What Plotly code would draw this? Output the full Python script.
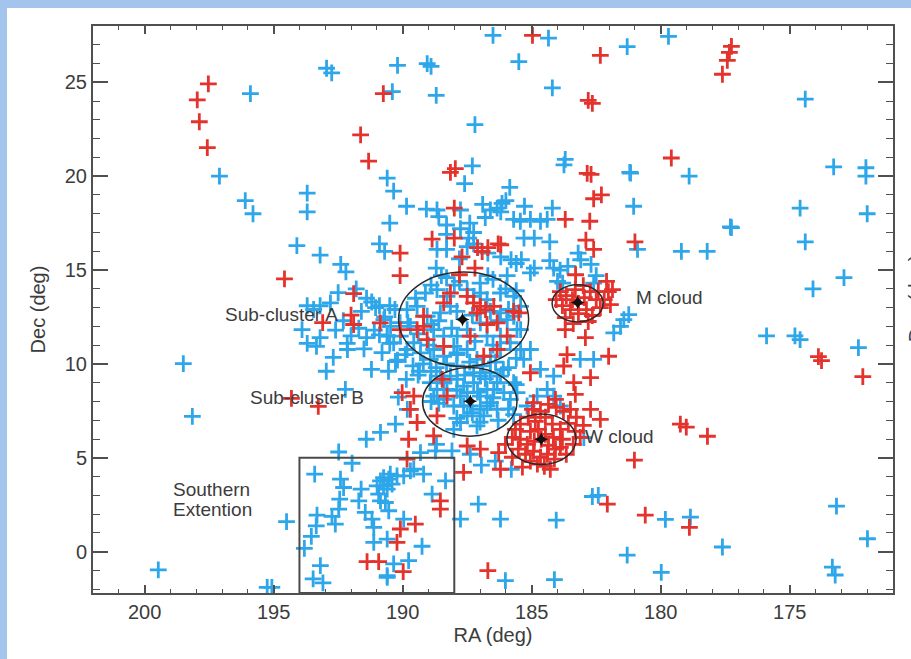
import plotly.graph_objects as go

# ---- galaxy positions (RA, Dec in degrees) ----
blue_north = [
    (186.5, 27.5), (184.35, 27.35), (185.5, 26.1), (184.2, 24.7), (181.3, 26.9), (179.7, 27.45),
    (174.4, 24.1), (195.9, 24.4), (192.95, 25.75), (192.75, 25.5), (190.2, 25.9), (189.05, 26.0),
    (188.9, 25.85), (188.7, 24.3), (190.4, 24.5), (187.2, 22.75), (197.1, 20.0), (187.3, 20.55),
    (190.6, 19.9), (187.6, 19.6), (193.7, 19.1), (190.35, 19.2), (185.85, 19.4), (183.7, 20.9),
    (183.75, 20.6), (181.2, 20.2), (178.9, 20.0), (173.3, 20.5), (172.05, 20.45), (172.05, 20.0),
]
blue_mid = [
    (196.1, 18.7), (195.8, 18.0), (193.7, 18.1), (189.85, 18.4), (189.08, 18.25), (188.67, 18.2),
    (188.6, 17.85), (188.3, 17.4), (187.76, 18.2), (186.9, 18.5), (186.6, 18.2), (186.34, 18.3),
    (186.15, 18.55), (186.0, 18.7), (186.2, 18.1), (186.8, 17.8), (185.28, 18.4), (185.7, 17.7),
    (185.44, 17.6), (185.05, 17.7), (184.66, 17.6), (184.4, 17.7), (184.2, 18.3), (190.5, 17.5),
    (187.4, 17.5), (187.25, 17.0), (187.76, 17.2), (188.3, 16.9), (187.44, 16.7), (187.25, 16.4),
    (187.5, 16.25), (190.9, 16.4), (190.7, 16.0), (193.2, 15.8), (188.67, 16.1), (188.3, 16.1),
    (185.3, 16.7), (184.9, 16.7), (184.3, 16.5), (180.9, 16.1), (186.7, 15.9), (186.2, 15.7),
    (185.8, 15.55), (187.8, 15.6), (185.4, 15.55), (185.6, 15.35), (184.9, 15.1), (185.05, 14.85),
    (183.2, 15.9), (183.1, 15.55), (182.7, 15.3), (192.4, 15.3), (192.2, 14.9), (188.7, 15.1),
    (188.0, 14.2), (188.5, 14.7), (186.7, 14.7), (185.95, 14.7), (184.3, 15.5), (184.15, 15.1),
    (183.9, 15.0), (183.6, 15.2), (184.0, 14.4), (183.8, 14.3), (182.5, 14.7), (182.6, 14.3),
    (181.05, 18.4), (194.1, 16.3), (178.2, 16.0), (177.3, 17.3), (179.2, 16.0), (174.6, 18.3),
    (174.4, 16.5), (172.0, 18.0), (172.9, 14.6), (174.1, 14.0),
]
blue_sub_a = [
    (189.12, 13.78), (188.67, 13.96), (188.28, 13.6), (188.15, 13.07), (187.5, 13.96), (187.25, 13.6),
    (186.99, 13.78), (186.73, 13.43), (186.21, 13.78), (185.7, 13.6), (185.43, 13.07), (189.83, 12.89),
    (189.44, 13.07), (189.05, 12.54), (188.54, 12.72), (186.21, 12.72), (185.95, 12.36), (185.7, 12.54),
    (185.43, 11.83), (188.8, 11.83), (188.41, 11.48), (187.89, 11.48), (187.5, 11.83), (186.99, 12.19),
    (186.73, 11.48), (186.21, 11.48), (188.02, 10.94), (190.73, 12.36), (190.47, 12.0), (190.6, 11.48),
    (190.35, 11.13), (190.09, 11.48), (189.7, 12.0), (189.57, 11.13), (189.83, 10.77), (189.31, 10.59),
    (188.8, 10.77), (188.93, 10.24), (188.41, 10.41), (187.89, 10.59), (187.5, 10.77), (187.12, 10.24),
    (186.6, 10.41), (186.21, 10.77), (185.83, 11.13), (185.43, 10.77), (185.57, 11.83), (188.9, 14.2),
    (188.3, 14.6), (187.8, 14.4), (187.0, 14.3), (186.5, 14.5), (186.0, 14.0), (185.6, 13.9),
    (189.5, 13.5), (189.8, 12.2), (189.4, 11.6), (188.9, 12.1), (188.6, 12.3), (187.9, 12.8),
    (187.3, 12.6), (186.6, 12.8), (186.3, 12.3), (185.9, 12.9), (188.1, 11.9), (187.2, 11.2),
    (186.5, 11.0), (187.9, 10.5), (189.0, 11.0), (190.2, 10.2), (189.9, 10.5), (189.6, 9.9),
    (189.2, 10.0), (188.7, 9.8), (188.3, 10.0), (187.9, 9.9), (187.4, 10.1), (186.9, 9.9),
    (186.4, 10.1), (185.9, 9.8), (185.6, 10.3), (189.4, 9.4), (188.9, 9.6),
]
blue_west = [
    (193.7, 13.1), (193.45, 12.9), (193.2, 13.1), (192.8, 13.25), (191.4, 13.5), (191.2, 13.3),
    (191.05, 13.0), (190.9, 13.1), (190.5, 13.1), (190.7, 12.5), (191.1, 11.8), (190.9, 11.55),
    (190.6, 11.5), (191.4, 11.4), (190.5, 11.1), (193.2, 11.4), (193.7, 11.1), (192.15, 11.1),
    (192.0, 11.5), (191.8, 14.0), (192.5, 13.8), (191.6, 12.8), (192.3, 12.3), (190.3, 12.9),
    (190.1, 12.2), (191.7, 11.9), (190.8, 10.6), (191.5, 10.8), (192.6, 11.8), (193.9, 11.83),
    (193.34, 10.94), (192.69, 10.35), (192.14, 10.77), (191.21, 9.71), (190.55, 9.61), (190.28, 10.13),
    (189.86, 9.18), (189.35, 9.61), (190.17, 8.23), (189.82, 7.58), (190.28, 6.79), (190.86, 6.36),
    (191.41, 5.99), (192.96, 9.61), (192.22, 8.65), (198.5, 10.02), (198.15, 7.21),
]
blue_sub_b = [
    (188.93, 9.0), (188.54, 9.35), (188.28, 8.64), (187.89, 9.18), (187.64, 8.82), (187.76, 8.29),
    (187.25, 9.0), (186.99, 9.35), (186.73, 8.64), (186.34, 9.0), (186.08, 8.47), (186.6, 7.94),
    (186.99, 7.58), (187.38, 7.76), (188.02, 7.76), (188.41, 8.11), (188.8, 8.29), (187.5, 7.23),
    (186.86, 7.23), (186.34, 7.58), (185.83, 8.11), (186.21, 9.35), (186.6, 9.53), (187.25, 9.53),
    (188.15, 9.35), (188.67, 8.64), (187.76, 6.88), (187.12, 6.7), (188.02, 6.52), (185.7, 9.0),
    (185.57, 8.47), (186.47, 8.64), (187.5, 8.47), (186.99, 8.29), (186.73, 7.76), (187.64, 7.76),
    (187.9, 8.6), (187.1, 8.5), (186.8, 9.2), (187.6, 9.4), (188.4, 9.0), (187.3, 7.4),
    (186.5, 8.2), (188.6, 7.9), (187.0, 6.9), (186.3, 7.0), (185.9, 7.6), (185.6, 8.9),
    (188.9, 8.0), (187.9, 7.1), (186.1, 9.7), (185.7, 7.3),
]
blue_east = [
    (183.12, 10.24), (182.6, 10.24), (181.82, 11.66), (181.43, 12.36), (181.24, 12.63), (181.56, 12.0),
    (185.31, 10.24), (185.05, 10.77), (184.66, 9.71), (184.4, 8.64), (184.15, 9.35), (184.79, 8.29),
    (185.18, 7.76), (184.15, 8.29), (183.89, 7.76), (182.98, 6.08), (177.26, 17.26), (181.17, 20.17),
    (175.9, 11.5), (174.8, 11.5), (174.6, 11.3), (172.34, 10.87), (173.19, 2.43), (171.99, 0.69),
    (173.35, -0.82), (173.24, -1.24), (179.98, -1.1), (181.3, -0.18), (178.85, 1.84), (177.61, 0.25),
    (179.82, 1.72), (182.65, 2.94), (182.42, 3.0), (184.05, 1.68),
]
blue_south = [
    (192.48, 5.31), (191.96, 4.71), (193.41, 4.13), (192.41, 3.86), (192.29, 3.42), (192.44, 2.8),
    (192.48, 2.27), (193.32, 1.95), (192.74, 1.88), (192.61, 1.47), (193.35, 1.38), (193.54, 0.82),
    (193.81, 0.18), (193.19, -0.74), (193.47, -1.45), (193.09, -1.66), (191.61, 3.33), (191.7, 2.71),
    (191.45, 2.09), (191.19, 1.74), (191.12, 1.3), (190.99, 3.51), (190.86, 3.77), (190.74, 3.95),
    (190.54, 3.86), (190.48, 4.13), (190.22, 4.04), (189.96, 4.04), (189.7, 4.3), (189.19, 4.13),
    (189.57, 4.4), (190.74, 3.51), (190.6, 3.33), (190.41, 3.6), (190.93, 3.07), (190.86, 2.71),
    (190.67, 2.62), (190.54, 2.18), (189.96, 1.74), (191.12, 0.5), (190.6, 0.67), (190.35, -0.65),
    (189.77, -0.48), (190.6, -1.28), (189.25, 0.29), (188.86, 3.07), (188.34, 3.77), (187.76, 1.74),
    (189.31, 5.28), (188.73, 5.37), (188.09, 5.37), (194.5, 1.6), (199.47, -0.97), (195.25, -1.9),
    (195.07, -1.9), (190.6, -1.36), (186.02, -1.54), (184.12, -1.49), (187.38, 5.19), (186.95, 4.61),
    (186.41, 4.82), (185.79, 4.39), (187.07, 2.53), (186.21, 1.74), (188.69, 5.72),
]

red_field = [
    (197.96, 24.07), (197.53, 24.92), (197.88, 22.9), (197.57, 21.52), (191.63, 22.2), (191.32, 20.8),
    (190.75, 24.4), (184.97, 27.5), (182.34, 26.44), (182.81, 24.04), (182.65, 23.88), (177.26, 26.91),
    (177.34, 26.6), (177.42, 26.17), (177.61, 25.43), (179.59, 20.97), (172.17, 9.33), (173.89, 10.39),
    (173.77, 10.18), (181.02, 4.88), (180.6, 1.95), (179.24, 6.79), (179.01, 6.63), (178.19, 6.15),
    (178.89, 1.3), (182.07, 2.53), (186.7, -1.01), (189.98, -1.06), (194.58, 14.53), (194.31, 8.17),
    (193.27, 7.74), (187.64, 4.22), (188.54, 2.71), (188.54, 2.27), (189.51, 1.47), (190.09, 1.21),
    (190.22, 0.5), (191.38, -0.53), (190.93, -0.53), (189.83, 4.93),
]
red_north = [
    (182.85, 20.15), (182.7, 20.1), (182.6, 18.8), (182.3, 19.0), (183.7, 17.7), (182.75, 17.6),
    (182.9, 16.6), (182.6, 16.1), (181.0, 16.5), (183.3, 14.75), (188.0, 18.3), (187.96, 20.4),
    (188.15, 20.2), (188.86, 16.65), (188.0, 16.7), (187.1, 16.2), (186.7, 16.2), (186.3, 16.4),
    (186.2, 16.35), (190.1, 15.9), (187.7, 15.7), (190.1, 14.7), (187.8, 14.75), (187.2, 15.1),
    (191.9, 13.75), (192.0, 12.6), (191.9, 12.1), (193.1, 12.2), (186.92, 15.99),
]
red_sub_a = [
    (188.41, 13.25), (187.25, 13.25), (186.99, 13.07), (186.79, 12.89), (187.12, 12.72), (186.47, 13.07),
    (189.19, 12.54), (189.44, 11.83), (186.73, 12.1), (186.34, 12.19), (185.95, 11.48), (189.05, 11.3),
    (185.5, 12.72), (187.5, 13.6), (188.15, 13.78), (190.09, 11.83), (190.87, 12.19), (189.19, 12.0),
    (186.86, 10.41), (185.7, 12.8), (187.38, 11.48), (186.34, 10.77), (188.41, 10.94),
]
red_sub_b = [
    (188.47, 9.18), (188.28, 8.29), (189.57, 8.29), (190.02, 8.47), (189.7, 7.58), (189.44, 6.88),
    (188.8, 6.17), (189.77, 5.99), (187.5, 5.63), (186.99, 5.46), (186.28, 5.28), (186.21, 4.39),
    (188.67, 7.23), (185.05, 9.53), (184.93, 7.94),
]
red_east = [
    (183.63, 10.5), (183.76, 9.89), (183.37, 9.0), (182.72, 9.27), (182.02, 10.41), (183.7, 11.83),
    (182.92, 11.4), (182.1, 14.4), (181.87, 13.96), (184.08, 8.11), (183.31, 8.38), (182.72, 7.58),
    (182.34, 7.05),
]
red_w_cloud = [
    (185.44, 6.79), (185.13, 7.16), (184.86, 6.94), (184.47, 7.16), (184.2, 6.79), (183.89, 6.52),
    (183.58, 6.83), (183.31, 6.41), (185.05, 6.41), (184.74, 6.52), (184.47, 6.25), (184.16, 6.09),
    (183.81, 5.99), (185.44, 5.99), (185.17, 5.72), (184.9, 5.88), (184.63, 5.99), (184.35, 5.67),
    (184.08, 5.46), (185.24, 5.19), (184.93, 5.35), (184.66, 5.03), (184.39, 5.19), (184.12, 4.93),
    (185.52, 5.46), (185.75, 6.09), (185.05, 4.82), (184.78, 4.66), (184.51, 4.55), (185.36, 4.5),
    (183.89, 5.56), (183.66, 5.19), (183.39, 5.72), (183.12, 6.09), (183.0, 6.73), (183.27, 7.16),
    (183.5, 7.58), (183.77, 7.48), (184.05, 7.69), (184.35, 7.85), (184.66, 7.48), (184.97, 7.58),
    (185.75, 5.03), (184.28, 4.39), (186.02, 5.72), (185.63, 6.52),
]
red_m_cloud = [
    (183.89, 13.85), (183.66, 13.64), (183.42, 13.43), (183.19, 13.22), (182.96, 13.53), (182.73, 13.85),
    (182.5, 13.43), (182.34, 13.0), (182.88, 12.89), (183.19, 12.68), (183.5, 12.89), (183.81, 13.11),
    (184.05, 13.43), (183.31, 13.96), (183.0, 14.17), (182.65, 12.58), (183.7, 12.47), (182.42, 13.85),
    (182.19, 13.43), (181.95, 13.16), (182.03, 13.85), (182.81, 12.26), (183.39, 12.15),
]

# structure centres and circle radii (deg)
centre_names = ["Sub-cluster A", "Sub-cluster B", "W cloud", "M cloud"]
centre_ra = [187.68, 187.38, 184.63, 183.22]
centre_dec = [12.37, 8.01, 5.99, 13.27]
circle_ra = [187.64, 187.40, 184.62, 183.22]
circle_dec = [12.38, 7.98, 5.99, 13.23]
circle_r = [2.52, 1.83, 1.34, 0.99]

# Southern Extension box (RA1, RA2, Dec top)
box_ra = [194.0, 188.0]
box_dec_top = 5.0

BLUE = "#2ea6ea"
RED = "#e4322c"
INK = "#3c3c3c"
FONT = "Liberation Sans, Arial, sans-serif"


def split(groups):
    ra = [p[0] for g in groups for p in g]
    dec = [p[1] for g in groups for p in g]
    return ra, dec


blue_ra, blue_dec = split([blue_north, blue_mid, blue_sub_a, blue_west, blue_sub_b, blue_east, blue_south])
red_ra, red_dec = split([red_field, red_north, red_sub_a, red_sub_b, red_east, red_w_cloud, red_m_cloud])

fig = go.Figure()
fig.add_trace(go.Scatter(
    x=blue_ra, y=blue_dec, mode="markers", name="blue",
    marker=dict(symbol="cross-thin", size=12, line=dict(color=BLUE, width=2.8)),
))
fig.add_trace(go.Scatter(
    x=red_ra, y=red_dec, mode="markers", name="red",
    marker=dict(symbol="cross-thin", size=12, line=dict(color=RED, width=2.8)),
))
fig.add_trace(go.Scatter(
    x=centre_ra, y=centre_dec, mode="markers", name="centres",
    marker=dict(symbol="star-diamond", size=10, color="#111111"),
))

for ra, dec, r in zip(circle_ra, circle_dec, circle_r):
    fig.add_shape(type="circle", xref="x", yref="y",
                  x0=ra - r, x1=ra + r, y0=dec - r, y1=dec + r,
                  line=dict(color="#2a2a2a", width=1.5))

fig.add_shape(type="rect", xref="x", yref="y",
              x0=box_ra[0], x1=box_ra[1], y0=-2.2, y1=box_dec_top,
              line=dict(color="#4a4a4a", width=2))

labels = [
    ("Sub-cluster A", 196.98, 12.63),
    ("Sub-cluster B", 195.98, 8.22),
    ("M cloud", 181.02, 13.53),
    ("W cloud", 183.0, 6.15),
    ("Southern", 198.97, 3.33),
    ("Extention", 198.97, 2.27),
]
for text, ra, dec in labels:
    fig.add_annotation(x=ra, y=dec, text=text, showarrow=False, xanchor="left", yanchor="middle",
                       font=dict(family=FONT, size=19, color=INK))

# neighbouring panel's axis title, cut by the page edge
fig.add_annotation(xref="paper", yref="paper", x=1.029, y=0.52, text="Dec (deg)",
                   textangle=-90, showarrow=False, xanchor="center", yanchor="middle",
                   font=dict(family=FONT, size=20, color=INK))

# light-blue page frame (top and left)
fig.add_shape(type="rect", xref="paper", yref="paper", layer="above",
              x0=-0.2, x1=1.1, y0=(593 - 8) / 567, y1=1.1,
              fillcolor="#a3c4ec", line=dict(width=0))
fig.add_shape(type="rect", xref="paper", yref="paper", layer="above",
              x0=-0.2, x1=(7 - 93) / 800, y0=-0.2, y1=1.1,
              fillcolor="#a3c4ec", line=dict(width=0))

axis_common = dict(
    showgrid=False, zeroline=False, showline=True, linecolor="#505050", linewidth=2,
    mirror="allticks", ticks="inside", tickcolor="#505050", tickwidth=1.5,
    tickfont=dict(family=FONT, size=20, color=INK),
)
fig.update_xaxes(
    range=[202, 171], tickmode="linear", tick0=0, dtick=5, ticklen=8,
    minor=dict(dtick=1, ticklen=4, ticks="inside", tickcolor="#505050", tickwidth=1.3),
    title=dict(text="RA (deg)", font=dict(family=FONT, size=20, color=INK), standoff=6),
    **axis_common,
)
fig.update_yaxes(
    range=[-2.2, 28], tickmode="linear", tick0=0, dtick=5, ticklen=15,
    minor=dict(dtick=1, ticklen=7, ticks="inside", tickcolor="#505050", tickwidth=1.3),
    title=dict(text="Dec (deg)", font=dict(family=FONT, size=20, color=INK), standoff=14),
    **axis_common,
)
fig.update_layout(
    width=911, height=659, showlegend=False,
    margin=dict(l=93, r=18, t=26, b=66, autoexpand=False),
    paper_bgcolor="white", plot_bgcolor="white",
)

fig.write_html("out.html")
